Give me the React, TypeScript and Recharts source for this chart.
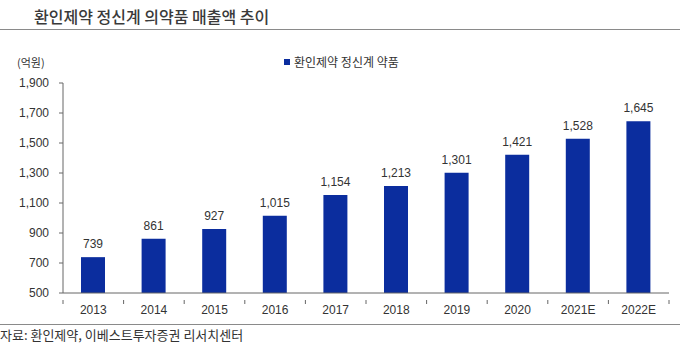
import React from 'react';
import { BarChart, Bar, XAxis, YAxis, LabelList } from 'recharts';

const years = ['2013', '2014', '2015', '2016', '2017', '2018', '2019', '2020', '2021E', '2022E'];
const sales = [739, 861, 927, 1015, 1154, 1213, 1301, 1421, 1528, 1645];
const yTicks = [500, 700, 900, 1100, 1300, 1500, 1700, 1900];

const data = years.map((year, i) => ({ year, sales: sales[i] }));

const FONT = '"Liberation Sans Narrow", "Liberation Sans", "Noto Sans CJK KR", sans-serif';
const KFONT = '"Noto Sans CJK KR", sans-serif';
const TEXT = '#333';
const BAR = '#0b2d9e';

const W = 680;
const H = 352;
const margin = { top: 83, right: 11, left: 0, bottom: 29 };
const yAxisW = 63;
const bandW = (W - margin.left - margin.right - yAxisW) / years.length;

// Excel style: ticks between categories, not under them
const XTick = (props: any) => {
  const { x, y, payload, index } = props;
  const last = index === years.length - 1;
  return (
    <g>
      <line x1={x - bandW / 2} x2={x - bandW / 2} y1={y - 1} y2={y + 3} stroke="#666" />
      {last && <line x1={x + bandW / 2} x2={x + bandW / 2} y1={y - 1} y2={y + 3} stroke="#666" />}
      <text x={x} y={y + 13} textAnchor="middle" fontSize={12} fill={TEXT} fontFamily={FONT}>
        {payload.value}
      </text>
    </g>
  );
};

const fmt = (v: any) => Number(v).toLocaleString('en-US');

export default function App() {
  return (
    <div style={{ position: 'absolute', left: 0, top: 0, width: W, height: H, background: '#fff' }}>
      <div
        style={{
          position: 'absolute', left: 34, top: 4, fontFamily: KFONT, fontSize: 16,
          fontWeight: 500, color: '#3a3a3a', whiteSpace: 'nowrap',
        }}
      >
        환인제약 정신계 의약품 매출액 추이
      </div>
      <div style={{ position: 'absolute', left: 0, top: 29, width: W, height: 0, borderTop: '1.5px solid #8a8a8a' }} />
      <div style={{ position: 'absolute', left: 17, top: 54, fontFamily: KFONT, fontSize: 11, color: TEXT }}>(억원)</div>

      <div
        style={{
          position: 'absolute', left: 284, top: 53, fontFamily: KFONT, fontSize: 12, color: TEXT,
          whiteSpace: 'nowrap', display: 'flex', alignItems: 'center',
        }}
      >
        <span style={{ display: 'inline-block', width: 6, height: 6, background: BAR, marginRight: 4 }} />
        환인제약 정신계 약품
      </div>

      <BarChart width={W} height={H} data={data} margin={margin}>
        <XAxis
          dataKey="year"
          stroke="#666"
          tickLine={false}
          tick={<XTick />}
          height={30}
          interval={0}
        />
        <YAxis
          domain={[500, 1900]}
          ticks={yTicks}
          width={yAxisW}
          stroke="#666"
          tickSize={4}
          tickMargin={10}
          tickFormatter={fmt}
          tick={{ fontSize: 12, fill: TEXT, fontFamily: FONT }}
          allowDataOverflow
        />
        <Bar dataKey="sales" fill={BAR} barSize={24} isAnimationActive={false}>
          <LabelList
            dataKey="sales"
            position="top"
            offset={9}
            formatter={fmt}
            style={{ fontSize: 12, fill: TEXT, fontFamily: FONT }}
          />
        </Bar>
      </BarChart>

      <div style={{ position: 'absolute', left: 0, top: 324, width: W, height: 0, borderTop: '1.5px solid #8a8a8a' }} />
      <div style={{ position: 'absolute', left: 0, top: 325, fontFamily: KFONT, fontSize: 13, color: TEXT, whiteSpace: 'nowrap' }}>
        자료: 환인제약, 이베스트투자증권 리서치센터
      </div>
    </div>
  );
}
